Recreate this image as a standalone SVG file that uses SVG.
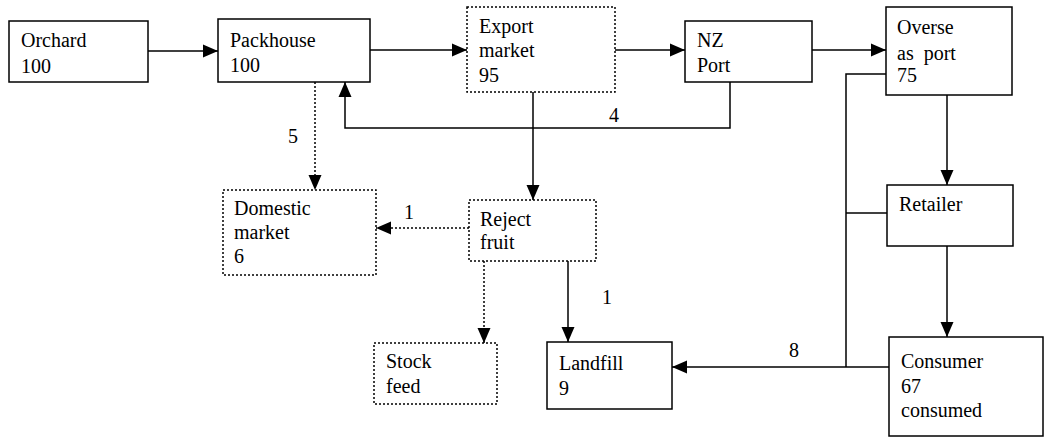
<svg xmlns="http://www.w3.org/2000/svg" width="1045" height="438" viewBox="0 0 1045 438" font-family="'Liberation Serif', 'Times New Roman', 'DejaVu Serif', serif">
  <style>
    .box { fill: #fff; stroke: #000; stroke-width: 1.5; }
    .dot { fill: #fff; stroke: #000; stroke-width: 1.5; stroke-dasharray: 2 2; }
    .ln { fill: none; stroke: #000; stroke-width: 1.5; }
    .dln { fill: none; stroke: #000; stroke-width: 1.5; stroke-dasharray: 2 2; }
    text { font-family: 'Liberation Serif', 'Times New Roman', 'DejaVu Serif', serif; font-size: 20px; fill: #000; }
  </style>
  <defs>
    <marker id="arr" markerUnits="userSpaceOnUse" markerWidth="16" markerHeight="14" refX="15" refY="7" orient="auto">
      <path d="M0,0.5 L15,7 L0,13.5 z" fill="#000"/>
    </marker>
  </defs>
  <rect width="1045" height="438" fill="#fff"/>

  <g id="connectors">
    <line class="ln" x1="148" y1="51" x2="218" y2="51" marker-end="url(#arr)"/>
    <line class="ln" x1="370" y1="50" x2="467" y2="50" marker-end="url(#arr)"/>
    <line class="ln" x1="615" y1="50" x2="685" y2="50" marker-end="url(#arr)"/>
    <line class="ln" x1="812" y1="50" x2="886" y2="50" marker-end="url(#arr)"/>
    <polyline class="ln" points="730,82 730,128 345,128 345,82" marker-end="url(#arr)"/>
    <text x="609" y="122">4</text>
    <line class="ln" x1="533" y1="92" x2="533" y2="200" marker-end="url(#arr)"/>
    <line class="dln" x1="315" y1="82" x2="315" y2="190" marker-end="url(#arr)"/>
    <text x="288" y="143">5</text>
    <line class="dln" x1="469" y1="228" x2="376" y2="228" marker-end="url(#arr)"/>
    <text x="404" y="219">1</text>
    <line class="dln" x1="484" y1="261" x2="484" y2="343" marker-end="url(#arr)"/>
    <line class="ln" x1="568" y1="261" x2="568" y2="342" marker-end="url(#arr)"/>
    <text x="602" y="304">1</text>
    <line class="ln" x1="947" y1="95" x2="947" y2="185" marker-end="url(#arr)"/>
    <line class="ln" x1="947" y1="246" x2="947" y2="337" marker-end="url(#arr)"/>
    <polyline class="ln" points="886,74 846,74 846,367"/>
    <line class="ln" x1="846" y1="213" x2="887" y2="213"/>
    <line class="ln" x1="889" y1="367" x2="672" y2="367" marker-end="url(#arr)"/>
    <text x="789" y="357">8</text>
  </g>

  <g id="orchard">
    <rect class="box" x="9" y="21" width="139" height="61"/>
    <text x="21" y="47">Orchard</text>
    <text x="21" y="73">100</text>
  </g>
  <g id="packhouse">
    <rect class="box" x="218" y="19" width="152" height="63"/>
    <text x="230" y="47">Packhouse</text>
    <text x="230" y="72">100</text>
  </g>
  <g id="export-market">
    <rect class="dot" x="467" y="7" width="148" height="85"/>
    <text x="479" y="33">Export</text>
    <text x="479" y="57">market</text>
    <text x="479" y="82">95</text>
  </g>
  <g id="nz-port">
    <rect class="box" x="685" y="21" width="127" height="61"/>
    <text x="697" y="47">NZ</text>
    <text x="697" y="72">Port</text>
  </g>
  <g id="overseas-port">
    <rect class="box" x="886" y="7" width="126" height="88"/>
    <text x="897" y="34">Overse</text>
    <text x="897" y="60" xml:space="preserve">as  port</text>
    <text x="897" y="82">75</text>
  </g>
  <g id="domestic-market">
    <rect class="dot" x="223" y="190" width="153" height="85"/>
    <text x="234" y="215">Domestic</text>
    <text x="234" y="239">market</text>
    <text x="234" y="263">6</text>
  </g>
  <g id="reject-fruit">
    <rect class="dot" x="469" y="200" width="127" height="61"/>
    <text x="480" y="226">Reject</text>
    <text x="480" y="249">fruit</text>
  </g>
  <g id="stock-feed">
    <rect class="dot" x="374" y="343" width="123" height="61"/>
    <text x="386" y="368">Stock</text>
    <text x="386" y="393">feed</text>
  </g>
  <g id="landfill">
    <rect class="box" x="547" y="342" width="125" height="67"/>
    <text x="559" y="370">Landfill</text>
    <text x="559" y="395">9</text>
  </g>
  <g id="retailer">
    <rect class="box" x="887" y="185" width="126" height="61"/>
    <text x="899" y="211">Retailer</text>
  </g>
  <g id="consumer">
    <rect class="box" x="889" y="337" width="154" height="99"/>
    <text x="901" y="368">Consumer</text>
    <text x="901" y="393">67</text>
    <text x="901" y="417">consumed</text>
  </g>
</svg>
